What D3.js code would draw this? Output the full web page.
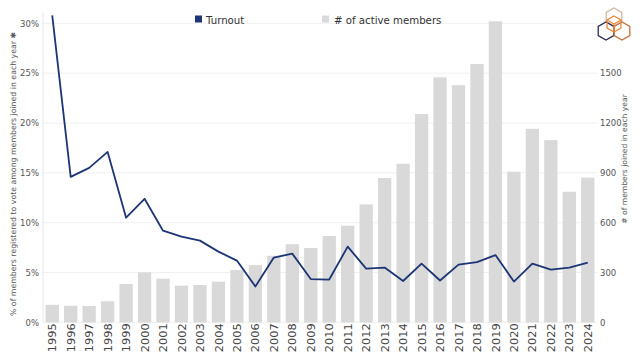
<!DOCTYPE html>
<html><head><meta charset="utf-8">
<script src="https://cdn.jsdelivr.net/npm/d3@7"></script>
<style>body{margin:0;background:#fff;}svg{display:block;font-family:"DejaVu Sans","Open Sans",sans-serif;}</style>
</head><body>
<svg id="c" width="640" height="360"></svg>
<script>
const years = ["1995","1996","1997","1998","1999","2000","2001","2002","2003","2004","2005","2006","2007","2008","2009","2010","2011","2012","2013","2014","2015","2016","2017","2018","2019","2020","2021","2022","2023","2024"];
const members = [106,100,99,127,231,301,263,221,225,245,315,345,401,470,448,520,582,710,869,955,1254,1475,1427,1555,1812,907,1165,1097,786,871];
const turnout = [30.8,14.6,15.5,17.1,10.5,12.4,9.2,8.6,8.2,7.1,6.2,3.6,6.5,6.9,4.35,4.3,7.6,5.4,5.5,4.15,5.9,4.2,5.8,6.05,6.75,4.1,5.9,5.3,5.5,6.0];
const leftTicks = [0,5,10,15,20,25,30];
const rightTicks = [0,300,600,900,1200,1500];

const svg = d3.select("#c");
const x0 = 43, x1 = 597, yBase = 322.4, yTop30 = 23.3;
const x = d3.scaleBand().domain(years).range([x0, x1]).paddingInner(0.28).paddingOuter(0.14);
const yL = d3.scaleLinear().domain([0, 30]).range([yBase, yTop30]);
const yR = d3.scaleLinear().domain([0, 1800]).range([yBase, yTop30]);

// gridlines
svg.append("g").selectAll("line").data(leftTicks).join("line")
  .attr("x1", x0).attr("x2", x1).attr("y1", d => yL(d)).attr("y2", d => yL(d))
  .attr("stroke", "#f0f0f0").attr("stroke-width", 1);

// left axis line
svg.append("line").attr("x1", x0).attr("x2", x0).attr("y1", 13).attr("y2", yBase)
  .attr("stroke", "#e6e6e6");

// bars
svg.append("g").selectAll("rect").data(years).join("rect")
  .attr("x", d => x(d)).attr("width", x.bandwidth())
  .attr("y", (d, i) => yR(members[i])).attr("height", (d, i) => yBase - yR(members[i]))
  .attr("fill", "#d9d9d9");

// line
const line = d3.line().x((d, i) => x(years[i]) + x.bandwidth() / 2).y(d => yL(d));
svg.append("path").datum(turnout).attr("d", line)
  .attr("fill", "none").attr("stroke", "#1e3575").attr("stroke-width", 1.8).attr("stroke-linejoin", "round");

// left axis labels
const axL = d3.axisLeft(yL).tickValues(leftTicks).tickFormat(d => d + "%").tickSize(0).tickPadding(4);
const gL = svg.append("g").attr("transform", `translate(${x0},0)`).call(axL);
gL.select(".domain").remove();
gL.selectAll("text").attr("font-size", 8.5).attr("fill", "#555").attr("font-family", "'DejaVu Sans',sans-serif");

const axR = d3.axisRight(yR).tickValues(rightTicks).tickFormat(d3.format("d")).tickSize(0).tickPadding(3);
const gR = svg.append("g").attr("transform", `translate(${x1},0)`).call(axR);
gR.select(".domain").remove();
gR.selectAll("text").attr("font-size", 8.5).attr("fill", "#555").attr("font-family", "'DejaVu Sans',sans-serif");

// x axis labels
const axB = d3.axisBottom(x).tickSize(0).tickPadding(0);
const gB = svg.append("g").attr("transform", `translate(0,${yBase})`).call(axB);
gB.select(".domain").remove();
gB.selectAll("text").attr("font-size", 11.3).attr("fill", "#444").attr("font-family", "'DejaVu Sans',sans-serif")
  .attr("transform", "rotate(-90)").attr("text-anchor", "end").attr("x", -1).attr("y", 0).attr("dy", "0.36em");

// axis titles
svg.append("text").attr("transform", "translate(16,174) rotate(-90)").attr("text-anchor", "middle")
  .attr("font-size", 7.8).attr("fill", "#555").text("% of members registered to vote among members joined in each year ✱");
svg.append("text").attr("transform", "translate(627,159) rotate(-90)").attr("text-anchor", "middle")
  .attr("font-size", 7.6).attr("fill", "#555").text("# of members joined in each year");

// legend
svg.append("rect").attr("x", 195).attr("y", 15.5).attr("width", 7).attr("height", 7).attr("fill", "#1e3575");
svg.append("text").attr("x", 206).attr("y", 23.5).attr("font-size", 10.2).attr("fill", "#333").text("Turnout");
svg.append("rect").attr("x", 322).attr("y", 15.5).attr("width", 7).attr("height", 7).attr("fill", "#d9d9d9");
svg.append("text").attr("x", 334).attr("y", 23.5).attr("font-size", 10.2).attr("fill", "#333").text("# of active members");

// logo
function hex(cx, cy, r) {
  const pts = d3.range(6).map(k => { const a = Math.PI / 3 * k - Math.PI / 2; return [cx + r * Math.cos(a), cy + r * Math.sin(a)]; });
  return "M" + pts.map(p => p.join(",")).join("L") + "Z";
}
const logo = svg.append("g").attr("fill", "none").attr("stroke-width", 1.3);
logo.append("path").attr("d", hex(614, 17, 9)).attr("stroke", "#cdb7a2");
logo.append("path").attr("d", hex(606, 31, 9)).attr("stroke", "#2d2a4f");
logo.append("path").attr("d", hex(622, 31, 9)).attr("stroke", "#c9703a");
logo.append("path").attr("d", hex(614, 24, 8)).attr("stroke", "#e88a3c");
logo.append("path").attr("d", "M614,24L614,32M614,24L607,20M614,24L621,20").attr("stroke", "#e88a3c");
</script>
</body></html>
